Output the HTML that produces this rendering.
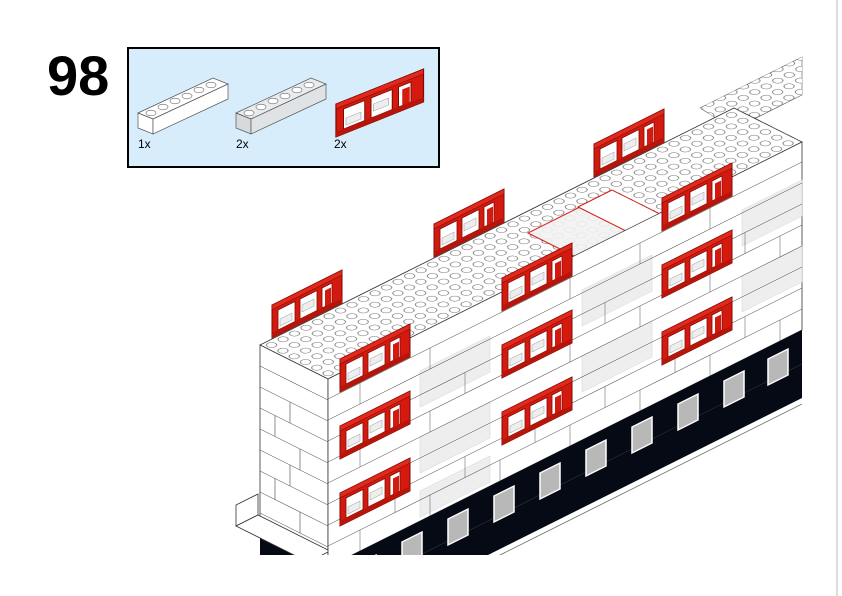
<!DOCTYPE html>
<html><head><meta charset="utf-8"><style>
html,body{margin:0;padding:0;background:#fff;width:842px;height:596px;overflow:hidden;}
body{position:relative;font-family:"Liberation Sans",sans-serif;}
</style></head><body>
<svg width="842" height="596" viewBox="0 0 842 596" xmlns="http://www.w3.org/2000/svg" style="position:absolute;left:0;top:0;display:block">
<defs>
<pattern id="studs" width="10" height="10" patternUnits="userSpaceOnUse" patternTransform="matrix(1.15,-0.575,-1.13,-0.565,328,379)">
<circle cx="5" cy="5" r="3.2" fill="#fff" stroke="#777" stroke-width="0.6"/>
</pattern>
<clipPath id="cl"><rect x="0" y="0" width="803" height="555"/></clipPath>
<g id="rw">
<rect x="0" y="0" width="70" height="33" fill="#d41a0e" stroke="#7a0a05" stroke-width="1"/>
<rect x="0" y="0" width="70" height="5" fill="#e0281c" stroke="#7a0a05" stroke-width="0.6"/>
<rect x="6" y="8" width="17" height="20" fill="#fff" stroke="#7a0a05" stroke-width="0.8"/>
<rect x="28" y="8" width="17" height="20" fill="#fff" stroke="#7a0a05" stroke-width="0.8"/>
<rect x="50" y="8" width="10" height="20" fill="#fff" stroke="#7a0a05" stroke-width="0.8"/>
<rect x="8" y="18" width="12" height="7" fill="#eee" stroke="#999" stroke-width="0.5"/>
<rect x="30" y="15" width="12" height="7" fill="#eee" stroke="#999" stroke-width="0.5"/>
<rect x="53" y="12" width="6" height="16" fill="#d41a0e"/>
<rect x="0" y="28" width="70" height="5" fill="#b8140a"/>
</g>
</defs>
<text x="47" y="95" font-family="Liberation Sans" font-weight="bold" font-size="56" fill="#000">98</text>
<rect x="128" y="48" width="311" height="119" fill="#d7edfb" stroke="#000" stroke-width="2"/>
<g stroke="#555" stroke-width="0.7">
<polygon points="138,113 213,78 228,84 153,119" fill="#fff"/>
<polygon points="138,113 153,119 153,134 138,128" fill="#fff"/>
<polygon points="153,119 228,84 228,99 153,134" fill="#fff"/>
<polygon points="236,113 311,78 326,84 251,119" fill="#e8ecef"/>
<polygon points="236,113 251,119 251,134 236,128" fill="#d6dadd"/>
<polygon points="251,119 326,84 326,99 251,134" fill="#dfe3e6"/>
</g>
<g fill="#fff" stroke="#666" stroke-width="0.6">
<ellipse cx="151" cy="113" rx="5" ry="2.8"/><ellipse cx="163" cy="107" rx="5" ry="2.8"/><ellipse cx="175" cy="101" rx="5" ry="2.8"/><ellipse cx="187" cy="96" rx="5" ry="2.8"/><ellipse cx="199" cy="90" rx="5" ry="2.8"/><ellipse cx="211" cy="85" rx="5" ry="2.8"/>
<ellipse cx="249" cy="113" rx="5" ry="2.8"/><ellipse cx="261" cy="107" rx="5" ry="2.8"/><ellipse cx="273" cy="101" rx="5" ry="2.8"/><ellipse cx="285" cy="96" rx="5" ry="2.8"/><ellipse cx="297" cy="90" rx="5" ry="2.8"/><ellipse cx="309" cy="85" rx="5" ry="2.8"/>
</g>
<g transform="translate(336,104) matrix(1.25,-0.5,0,1,0,0)"><use href="#rw"/></g>
<text x="138" y="148" font-size="12" fill="#000">1x</text>
<text x="236" y="148" font-size="12" fill="#000">2x</text>
<text x="334" y="148" font-size="12" fill="#000">2x</text>

<line x1="837" y1="0" x2="837" y2="596" stroke="#d0d0d0" stroke-width="1.5"/>

<g clip-path="url(#cl)">
<polygon points="700,108 802,57 802,95 734,129" fill="#fff" stroke="#555" stroke-width="0.6"/>
<polygon points="700,108 802,57 802,95 734,129" fill="url(#studs)"/>
<polygon points="260,345 328,379 802,142 734,108" fill="#fff" stroke="#333" stroke-width="0.8"/>
<polygon points="260,345 328,379 802,142 734,108" fill="url(#studs)"/>
<polygon points="528,233 580,207 662,248 610,274" fill="#f2f2f2" stroke="#d41a0e" stroke-width="1.2" opacity="0.9"/>
<polygon points="578,207 612,190 662,215 628,232" fill="#fff" stroke="#d41a0e" stroke-width="1"/>
<g transform="matrix(1,-0.5,0,1,0,731)">
<g transform="translate(-68,-69)">
<use href="#rw" x="340" y="-221"/>
<use href="#rw" x="502" y="-221"/>
<use href="#rw" x="662" y="-221"/>
</g>
</g>
<g transform="matrix(1,0.5,0,1,0,215)">
<rect x="260" y="0" width="68" height="188" fill="#fff" stroke="#333" stroke-width="0.8"/>
<rect x="260" y="188" width="68" height="70" fill="#050a14"/>
<g stroke="#444" stroke-width="0.6">
<line x1="260" y1="21" x2="328" y2="21"/><line x1="260" y1="42" x2="328" y2="42"/><line x1="260" y1="63" x2="328" y2="63"/><line x1="260" y1="84" x2="328" y2="84"/><line x1="260" y1="105" x2="328" y2="105"/><line x1="260" y1="126" x2="328" y2="126"/><line x1="260" y1="147" x2="328" y2="147"/><line x1="260" y1="168" x2="328" y2="168"/>
<line x1="290" y1="42" x2="290" y2="63"/><line x1="275" y1="63" x2="275" y2="84"/><line x1="300" y1="84" x2="300" y2="105"/><line x1="290" y1="105" x2="290" y2="126"/><line x1="275" y1="126" x2="275" y2="147"/><line x1="300" y1="147" x2="300" y2="168"/>
</g>
</g>
<polygon points="236,505 258,494 258,515 236,526" fill="#fff" stroke="#333" stroke-width="0.8"/>
<polygon points="236,526 258,515 330,551 308,562" fill="#fff" stroke="#333" stroke-width="0.8"/>
<g transform="matrix(1,-0.5,0,1,0,731)">
<rect x="328" y="-188" width="474" height="188" fill="#fff" stroke="#333" stroke-width="0.8"/>
<g fill="#eeeeee" stroke="#d8d8d8" stroke-width="0.6">
<rect x="420" y="-150" width="70" height="36"/><rect x="420" y="-84" width="70" height="36"/><rect x="420" y="-30" width="70" height="26"/>
<rect x="582" y="-150" width="70" height="36"/><rect x="582" y="-84" width="70" height="36"/>
<rect x="742" y="-150" width="60" height="36"/><rect x="742" y="-84" width="60" height="36"/>
</g>
<g stroke="#444" stroke-width="0.6">
<line x1="328" y1="-21" x2="802" y2="-21"/><line x1="328" y1="-42" x2="802" y2="-42"/><line x1="328" y1="-63" x2="802" y2="-63"/><line x1="328" y1="-84" x2="802" y2="-84"/><line x1="328" y1="-105" x2="802" y2="-105"/><line x1="328" y1="-126" x2="802" y2="-126"/><line x1="328" y1="-147" x2="802" y2="-147"/><line x1="328" y1="-168" x2="802" y2="-168"/>
</g>
<g stroke="#555" stroke-width="0.5">
<line x1="360" y1="0" x2="360" y2="-21"/><line x1="430" y1="0" x2="430" y2="-21"/><line x1="500" y1="0" x2="500" y2="-21"/><line x1="570" y1="0" x2="570" y2="-21"/><line x1="640" y1="0" x2="640" y2="-21"/><line x1="710" y1="0" x2="710" y2="-21"/><line x1="780" y1="0" x2="780" y2="-21"/>
<line x1="395" y1="-21" x2="395" y2="-42"/><line x1="465" y1="-21" x2="465" y2="-42"/><line x1="535" y1="-21" x2="535" y2="-42"/><line x1="605" y1="-21" x2="605" y2="-42"/><line x1="675" y1="-21" x2="675" y2="-42"/><line x1="745" y1="-21" x2="745" y2="-42"/>
<line x1="360" y1="-84" x2="360" y2="-105"/><line x1="430" y1="-84" x2="430" y2="-105"/><line x1="570" y1="-84" x2="570" y2="-105"/><line x1="640" y1="-84" x2="640" y2="-105"/><line x1="710" y1="-84" x2="710" y2="-105"/><line x1="780" y1="-84" x2="780" y2="-105"/>
<line x1="395" y1="-105" x2="395" y2="-126"/><line x1="465" y1="-105" x2="465" y2="-126"/><line x1="535" y1="-105" x2="535" y2="-126"/><line x1="605" y1="-105" x2="605" y2="-126"/><line x1="745" y1="-105" x2="745" y2="-126"/>
<line x1="360" y1="-147" x2="360" y2="-168"/><line x1="430" y1="-147" x2="430" y2="-168"/><line x1="570" y1="-147" x2="570" y2="-168"/><line x1="640" y1="-147" x2="640" y2="-168"/><line x1="710" y1="-147" x2="710" y2="-168"/>
</g>
<rect x="328" y="0" width="474" height="68" fill="#050a14"/>
<line x1="328" y1="34" x2="802" y2="34" stroke="#3a3f4a" stroke-width="0.6"/>
<g fill="#b8b8b8" stroke="#fff" stroke-width="1.5">
<rect x="356" y="12" width="20" height="26"/><rect x="402" y="12" width="20" height="26"/><rect x="448" y="12" width="20" height="26"/><rect x="494" y="12" width="20" height="26"/><rect x="540" y="12" width="20" height="26"/><rect x="586" y="12" width="20" height="26"/><rect x="632" y="12" width="20" height="26"/><rect x="678" y="12" width="20" height="26"/><rect x="724" y="12" width="20" height="26"/><rect x="768" y="12" width="20" height="26"/>
</g>
<line x1="328" y1="74" x2="802" y2="74" stroke="#555" stroke-width="0.8"/>
<use href="#rw" x="340" y="-68"/><use href="#rw" x="340" y="-135"/><use href="#rw" x="340" y="-202"/>
<use href="#rw" x="502" y="-68"/><use href="#rw" x="502" y="-135"/><use href="#rw" x="502" y="-202"/>
<use href="#rw" x="662" y="-68"/><use href="#rw" x="662" y="-135"/><use href="#rw" x="662" y="-202"/>
</g>
</g>
</svg>
</body></html>
